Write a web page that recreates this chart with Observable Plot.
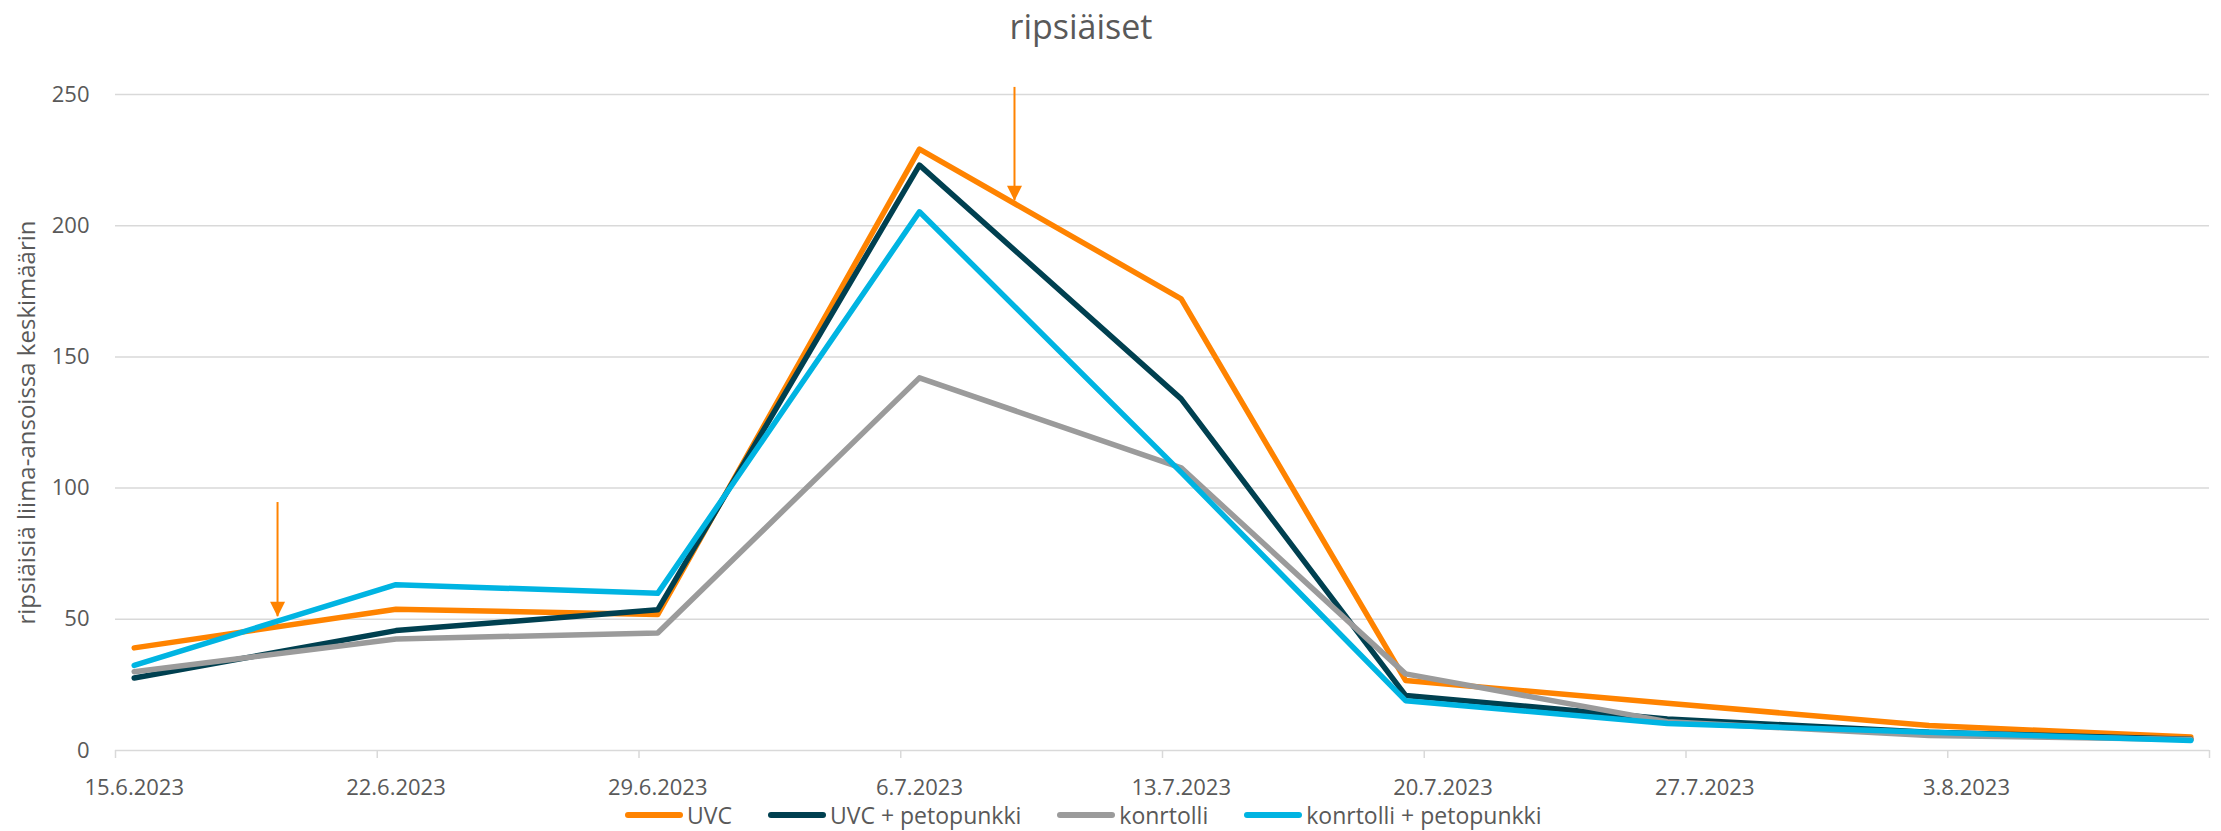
<!DOCTYPE html>
<html>
<head>
<meta charset="utf-8">
<script src="https://cdn.jsdelivr.net/npm/d3@7"></script>
<script src="https://cdn.jsdelivr.net/npm/@observablehq/plot@0.6"></script>
<style>
  html, body { margin: 0; padding: 0; background: #fff; }
  #wrap { position: relative; width: 2221px; height: 831px; font-family: "Open Sans", sans-serif; color: #595959; overflow: hidden; }
  #title { position: absolute; top: 9px; left: 0; width: 2162px; text-align: center; font-size: 34px; line-height: 34px; }
  #chart { position: absolute; top: 60px; left: 0; }
  #legend { position: absolute; top: 800px; left: 625px; height: 30px; display: flex; align-items: center; font-size: 23px; white-space: nowrap; }
  .item { display: flex; align-items: center; margin-right: 36px; }
  .sw { width: 58px; height: 6px; border-radius: 3px; margin-right: 4px; }
</style>
</head>
<body>
<div id="wrap">
  <div id="title"></div>
  <div id="chart"></div>
  <div id="legend"></div>
</div>
<script>
const chartTitle = "ripsiäiset";
const yTitle = "ripsiäisiä liima-ansoissa keskimäärin";

// sampling dates (each point sits in the middle of its day slot)
const dates = ["2023-06-15", "2023-06-22", "2023-06-29", "2023-07-06", "2023-07-13", "2023-07-19", "2023-07-26", "2023-08-02", "2023-08-09"];

const seriesNames = ["UVC", "UVC + petopunkki", "konrtolli", "konrtolli + petopunkki"];
const seriesColors = ["#ff8300", "#004050", "#9b9b9b", "#00b4e2"];

const uvc            = [39.1, 53.8, 51.8, 229.2, 172.1, 26.7, 18.0, 9.5, 5.1];
const uvcPetopunkki  = [27.6, 45.7, 53.6, 223.1, 134.0, 21.0, 12.0, 7.0, 4.3];
const konrtolli      = [30.0, 42.5, 44.8, 142.0, 107.7, 29.2, 11.0, 5.7, 4.2];
const konrtolliPeto  = [32.4, 63.2, 59.9, 205.3, 106.0, 19.0, 10.3, 7.0, 3.8];

// x axis: weekly boundaries and their labels
const tickDates  = ["2023-06-15", "2023-06-22", "2023-06-29", "2023-07-06", "2023-07-13", "2023-07-20", "2023-07-27", "2023-08-03"];
const tickLabels = ["15.6.2023", "22.6.2023", "29.6.2023", "6.7.2023", "13.7.2023", "20.7.2023", "27.7.2023", "3.8.2023"];
const axisStart = "2023-06-15";
const axisEnd = "2023-08-10";

const yTicks = [0, 50, 100, 150, 200, 250];

// orange annotation arrows
const arrowDates = ["2023-06-19T08:00:00Z", "2023-07-09T01:00:00Z"];
const arrowTop   = [94.5, 252.7];
const arrowTip   = [51.0, 209.5];

document.getElementById("title").textContent = chartTitle;

const allValues = [uvc, uvcPetopunkki, konrtolli, konrtolliPeto];
const noon = d => new Date(d + "T12:00:00Z");
const day = d => new Date(d + "T00:00:00Z");

const rows = [];
seriesNames.forEach((s, i) => {
  dates.forEach((d, j) => rows.push({series: s, date: noon(d), value: allValues[i][j]}));
});

const arrows = arrowDates.map((d, i) => ({date: new Date(d), top: arrowTop[i], tip: arrowTip[i]}));

const boundaries = tickDates.map(day).concat([day(axisEnd)]);
const labelPos = tickDates.map(noon);
const labelMap = new Map(labelPos.map((d, i) => [+d, tickLabels[i]]));

const plot = Plot.plot({
  width: 2221,
  height: 740,
  marginTop: 34,
  marginBottom: 50,
  marginLeft: 115,
  marginRight: 12,
  style: {fontFamily: "Open Sans, sans-serif", fontSize: "22px", color: "#595959", background: "white", overflow: "visible"},
  x: {type: "utc", domain: [day(axisStart), day(axisEnd)], label: null},
  y: {domain: [0, 250], label: null},
  color: {domain: seriesNames, range: seriesColors},
  marks: [
    Plot.ruleY(yTicks, {stroke: "#d9d9d9", strokeWidth: 1.5}),
    Plot.axisX({ticks: boundaries, tickSize: 8, tickFormat: () => "", stroke: "#d9d9d9", strokeWidth: 1.5, label: null}),
    Plot.axisX({ticks: labelPos, tickSize: 0, tickPadding: 29, tickFormat: d => labelMap.get(+d), fontSize: 22, label: null}),
    Plot.axisY({ticks: yTicks, tickSize: 0, tickPadding: 26, fontSize: 22, label: null}),
    Plot.text([yTitle], {frameAnchor: "left", dx: -88, rotate: -90, fontSize: 24, textAnchor: "middle"}),
    Plot.line(rows, {x: "date", y: "value", z: "series", stroke: "series", strokeWidth: 5.5, strokeLinejoin: "round", strokeLinecap: "round"}),
    Plot.ruleX(arrows, {x: "date", y1: "top", y2: "tip", stroke: "#ff8300", strokeWidth: 2}),
    Plot.vector(arrows, {x: "date", y: "tip", length: 15, rotate: 180, shape: "spike", r: 7.5, anchor: "end", fill: "#ff8300", stroke: "none"})
  ]
});
document.getElementById("chart").appendChild(plot);

const legend = document.getElementById("legend");
seriesNames.forEach((s, i) => {
  const item = document.createElement("div");
  item.className = "item";
  const sw = document.createElement("div");
  sw.className = "sw";
  sw.style.background = seriesColors[i];
  const t = document.createElement("span");
  t.textContent = s;
  item.appendChild(sw);
  item.appendChild(t);
  legend.appendChild(item);
});
</script>
</body>
</html>
